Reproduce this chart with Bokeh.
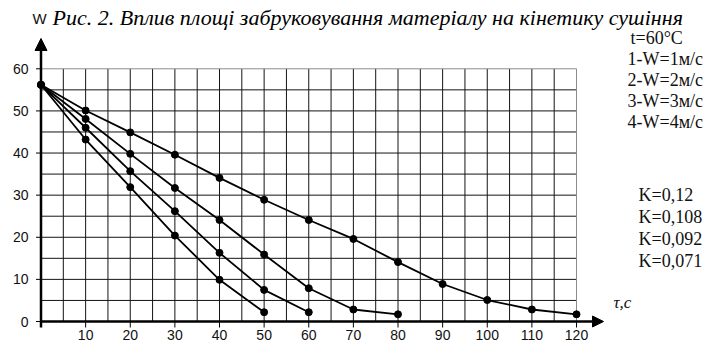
import numpy as np
from bokeh.plotting import figure
from bokeh.models import Range1d, Arrow, NormalHead
from bokeh.core.properties import value
from bokeh.embed import file_html
from bokeh.resources import INLINE

# ---- data ----
tau = [0, 10, 20, 30, 40, 50, 60, 70, 80, 90, 100, 110, 120]
w_1 = [56.2, 50.1, 44.9, 39.6, 34.1, 28.9, 24.1, 19.6, 14.1, 8.9, 5.1, 2.85, 1.7]
w_2 = [56.2, 48.1, 39.8, 31.7, 24.1, 15.9, 7.9, 2.85, 1.7]
w_3 = [56.2, 46.0, 35.7, 26.2, 16.3, 7.5, 2.2]
w_4 = [56.2, 43.2, 31.9, 20.4, 9.9, 2.2]
series = [w_1, w_2, w_3, w_4]

x_ticks = [10, 20, 30, 40, 50, 60, 70, 80, 90, 100, 110, 120]
y_ticks = [0, 10, 20, 30, 40, 50, 60]
grid_step = 5

title_text = "Рис. 2. Вплив площі забруковування матеріалу на кінетику сушіння"
legend_top = ["t=60°C", "1-W=1м/с", "2-W=2м/с", "3-W=3м/с", "4-W=4м/с"]
legend_k = ["K=0,12", "K=0,108", "K=0,092", "K=0,071"]
y_label = "W"
x_label = "τ,с"

# ---- layout (picture pixel geometry) ----
W, H = 705, 342
PX_X = 4.4625     # px per unit along x
PX_Y = 4.2117     # px per unit along y
ORG_X, ORG_Y = 40.5, 321.0   # picture px of the origin


def X(px):
    return (px - ORG_X) / PX_X


def Y(py):
    return (ORG_Y - py) / PX_Y


p = figure(width=W, height=H, output_backend="svg", toolbar_location=None,
           x_range=Range1d(X(0), X(W)), y_range=Range1d(Y(H), Y(0)),
           x_axis_type=None, y_axis_type=None, min_border=0)
p.outline_line_color = None
p.background_fill_color = "white"
p.border_fill_color = "white"

xmax = max(tau)
ymax = max(y_ticks)

# grid
gx = list(np.arange(grid_step, xmax, grid_step))
p.segment(x0=gx, y0=[0] * len(gx), x1=gx, y1=[ymax] * len(gx), line_color="#141414", line_width=1)
gy = list(np.arange(grid_step, ymax, grid_step))
p.segment(x0=[0] * len(gy), y0=gy, x1=[xmax] * len(gy), y1=gy, line_color="#141414", line_width=1)
# border lines (gray)
p.segment(x0=[0, xmax], y0=[ymax, 0], x1=[xmax, xmax], y1=[ymax, ymax], line_color="#8c8c8c", line_width=1)

# tick marks
p.segment(x0=x_ticks, y0=[0] * len(x_ticks), x1=x_ticks, y1=[-6 / PX_Y] * len(x_ticks),
          line_color="black", line_width=1)
p.segment(x0=[-5 / PX_X] * len(y_ticks), y0=y_ticks, x1=[0] * len(y_ticks), y1=y_ticks,
          line_color="black", line_width=1)

# axes with arrows
p.add_layout(Arrow(end=NormalHead(size=12, fill_color="black", line_color="black", line_width=1),
                   x_start=0, y_start=-6 / PX_Y, x_end=0, y_end=Y(38),
                   line_color="black", line_width=2.5))
p.add_layout(Arrow(end=NormalHead(size=11, fill_color="black", line_color="black", line_width=1),
                   x_start=0, y_start=0, x_end=X(603), y_end=0,
                   line_color="black", line_width=2.5))

# curves
for s in series:
    xs = tau[:len(s)]
    p.line(xs, s, line_color="black", line_width=1.8)
    p.scatter(xs, s, size=7, marker="circle", fill_color="black", line_color="black")

# tick labels
p.text(x=[X(28)] * len(y_ticks), y=y_ticks, text=[str(v) for v in y_ticks],
       text_font=value("Liberation Sans"), text_font_size="14px",
       text_align="right", text_baseline="middle", text_color="#111")
p.text(x=x_ticks, y=[Y(334)] * len(x_ticks), text=[str(v) for v in x_ticks],
       text_font=value("Liberation Sans"), text_font_size="14px",
       text_align="center", text_baseline="middle", text_color="#111")

# axis names
p.text(x=[X(39)], y=[Y(18)], text=[y_label], text_font=value("Liberation Sans"),
       text_font_size="15px", text_align="center", text_baseline="middle", text_color="#111")
p.text(x=[X(613)], y=[Y(302)], text=[x_label], text_font=value("Liberation Serif"),
       text_font_style="italic", text_font_size="17px", text_align="left",
       text_baseline="middle", text_color="#111")

# title
p.text(x=[X(52)], y=[Y(17)], text=[title_text], text_font=value("Liberation Serif"),
       text_font_style="italic", text_font_size="22px", text_align="left",
       text_baseline="alphabetic", text_color="black")

# right-hand notes
top_y = [37, 58, 79, 100, 121]
top_x = [630, 627, 627, 627, 627]
p.text(x=[X(v) for v in top_x], y=[Y(v) for v in top_y], text=legend_top,
       text_font=value("Liberation Serif"), text_font_size="18px",
       text_align="left", text_baseline="middle", text_color="#111")
k_y = [194, 216, 238, 260]
p.text(x=[X(638)] * len(k_y), y=[Y(v) for v in k_y], text=legend_k,
       text_font=value("Liberation Serif"), text_font_size="18px",
       text_align="left", text_baseline="middle", text_color="#111")

open("out.html", "w").write(file_html(p, INLINE))
